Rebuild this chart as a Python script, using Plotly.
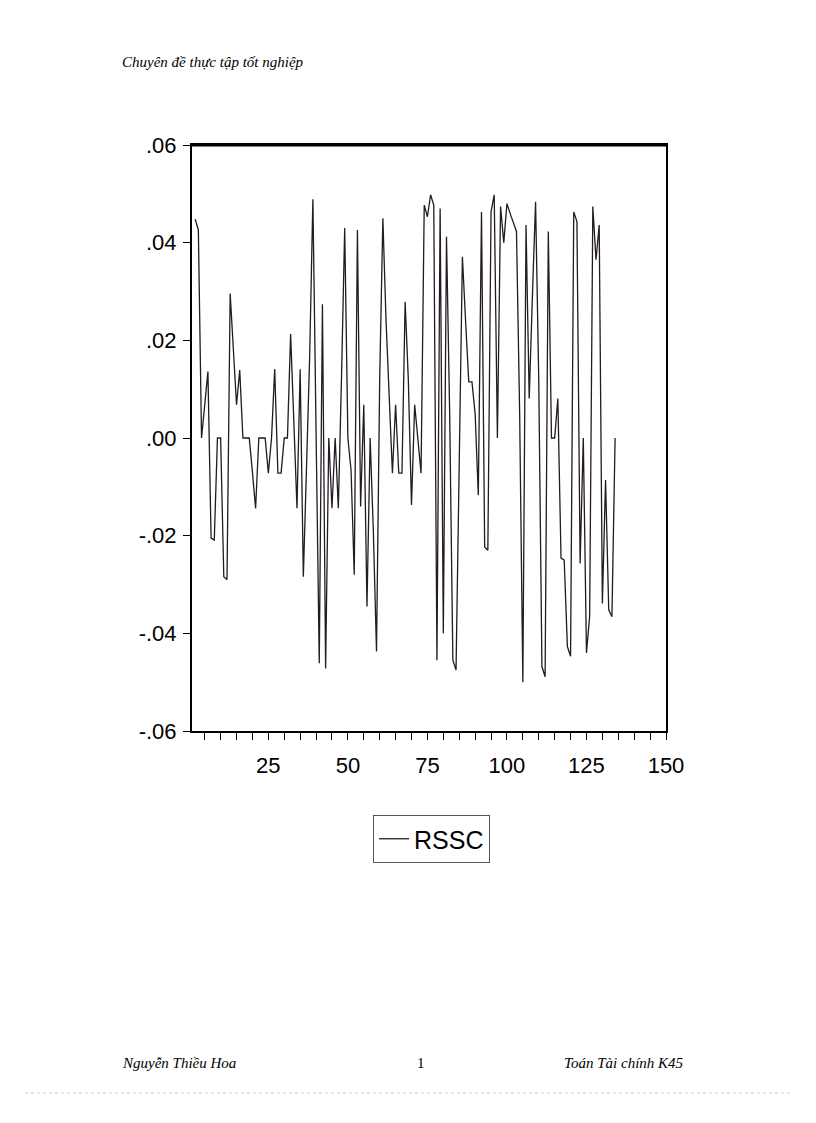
import plotly.graph_objects as go

# ---- data ----
obs_start = 2
rssc = [
    0.0448, 0.0426, 0.0, 0.007, 0.0136, -0.0205, -0.0209, 0.0, 0.0, -0.0284,
    -0.029, 0.0296, 0.018, 0.0068, 0.0139, 0.0, 0.0, 0.0, -0.007, -0.0144,
    0.0, 0.0, 0.0, -0.0072, 0.0, 0.0141, -0.0072, -0.0072, 0.0, 0.0,
    0.0213, 0.0036, -0.0144, 0.0141, -0.0284, -0.006, 0.017, 0.0489, 0.0, -0.0461,
    0.0274, -0.0472, 0.0, -0.0144, 0.0, -0.0144, 0.0126, 0.043, 0.0, -0.0066,
    -0.028, 0.0426, -0.014, 0.0068, -0.0345, 0.0, -0.019, -0.0437, 0.012, 0.045,
    0.024, 0.0085, -0.0072, 0.0068, -0.0072, -0.0072, 0.0279, 0.012, -0.0137, 0.0068,
    0.0, -0.0072, 0.0477, 0.0453, 0.0498, 0.0477, -0.0455, 0.047, -0.040, 0.0412,
    0.005, -0.0455, -0.0475, -0.002, 0.0371, 0.024, 0.0115, 0.0115, 0.005, -0.0117,
    0.0463, -0.0223, -0.023, 0.0463, 0.0498, 0.0, 0.0474, 0.040, 0.048, 0.046,
    0.0443, 0.0423, 0.005, -0.050, 0.0436, 0.0081, 0.029, 0.0484, 0.012, -0.0468,
    -0.0489, 0.0423, 0.0, 0.0, 0.0081, -0.0246, -0.025, -0.0427, -0.0447, 0.0463,
    0.0443, -0.0257, 0.0, -0.044, -0.0365, 0.0474, 0.0365, 0.0436, -0.0339, -0.0086,
    -0.0352, -0.0366, 0.0,
]
obs = list(range(obs_start, obs_start + len(rssc)))

y_tickvals = [0.06, 0.04, 0.02, 0.0, -0.02, -0.04, -0.06]
y_ticktext = [".06", ".04", ".02", ".00", "-.02", "-.04", "-.06"]
x_tickvals = list(range(5, 151, 5))
x_ticktext = [str(v) if v % 25 == 0 else "" for v in x_tickvals]

header_text = "Chuyên đề thực tập tốt nghiệp"
footer_left = "Nguyễn Thiều Hoa"
footer_mid = "1"
footer_right = "Toán Tài chính K45"

# ---- layout geometry (pixels) ----
W, H = 816, 1123
L, R, T, B = 192, 666, 145, 731
pw, ph = R - L, B - T


def px(x):
    return (x - L) / pw


def py(y):
    return (B - y) / ph


sans = "Liberation Sans, Arial, sans-serif"

fig = go.Figure()
fig.add_trace(go.Scatter(
    x=obs, y=rssc, mode="lines", name="RSSC",
    line=dict(color="#231a23", width=1.3),
))

fig.update_layout(
    width=W, height=H, autosize=False,
    margin=dict(l=L, r=W - R, t=T, b=H - B, pad=0),
    paper_bgcolor="white", plot_bgcolor="white",
    font=dict(family=sans, color="black"),
    showlegend=True,
    legend=dict(
        x=px(373), y=py(815), xanchor="left", yanchor="top",
        bordercolor="#555555", borderwidth=1, bgcolor="white",
        font=dict(size=25, family=sans),
        itemwidth=30, tracegroupgap=0,
    ),
    xaxis=dict(
        range=[1, 150], showgrid=False, zeroline=False,
        showline=True, linecolor="black", linewidth=2, mirror=True,
        ticks="outside", ticklen=7, tickwidth=1, tickcolor="black",
        tickvals=x_tickvals, ticktext=x_ticktext, ticklabelstandoff=7,
        tickfont=dict(size=22, family=sans), fixedrange=True,
    ),
    yaxis=dict(
        range=[-0.06, 0.06], showgrid=False, zeroline=False,
        showline=True, linecolor="black", linewidth=2, mirror=True,
        ticks="outside", ticklen=7, tickwidth=1, tickcolor="black",
        tickvals=y_tickvals, ticktext=y_ticktext, ticklabelstandoff=2,
        tickfont=dict(size=22, family=sans), fixedrange=True,
    ),
)

# thick top frame edge
fig.add_shape(type="line", xref="paper", yref="paper", x0=0, x1=1, y0=1, y1=1,
              line=dict(color="black", width=3))

serif = "Liberation Serif, Times New Roman, serif"
fig.add_annotation(text="<i>" + header_text + "</i>", xref="paper", yref="paper",
                   x=px(120), y=py(62), xanchor="left", yanchor="middle",
                   showarrow=False, font=dict(family=serif, size=15))
fig.add_annotation(text="<i>" + footer_left + "</i>", xref="paper", yref="paper",
                   x=px(120), y=py(1063), xanchor="left", yanchor="middle",
                   showarrow=False, font=dict(family=serif, size=15))
fig.add_annotation(text=footer_mid, xref="paper", yref="paper",
                   x=px(421), y=py(1063), xanchor="center", yanchor="middle",
                   showarrow=False, font=dict(family=serif, size=15))
fig.add_annotation(text="<i>" + footer_right + "</i>", xref="paper", yref="paper",
                   x=px(686), y=py(1063), xanchor="right", yanchor="middle",
                   showarrow=False, font=dict(family=serif, size=15))
fig.add_shape(type="line", xref="paper", yref="paper",
              x0=px(25), x1=px(790), y0=py(1093), y1=py(1093),
              line=dict(color="#cccccc", width=1, dash="dot"))

fig.write_html("out.html", config={"displayModeBar": False})

# remove the default 8px body margin so the figure sits at the page origin
with open("out.html", "r", encoding="utf-8") as f:
    html = f.read()
html = html.replace("<body>", '<body style="margin:0;padding:0;">', 1)
with open("out.html", "w", encoding="utf-8") as f:
    f.write(html)
